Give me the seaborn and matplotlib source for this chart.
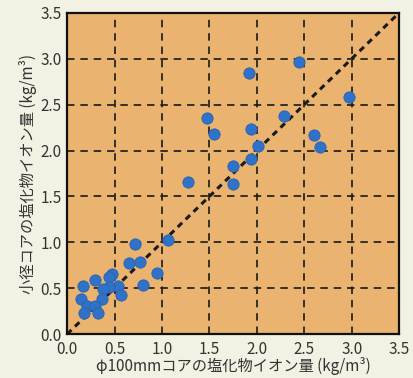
import matplotlib
matplotlib.use("Agg")
import matplotlib.pyplot as plt
import seaborn as sns
import pandas as pd

x_phi100 = [2.45, 1.92, 2.97, 1.47, 2.29, 1.55, 1.94, 2.60, 2.67, 2.01, 1.94, 1.75,
            1.28, 1.75, 1.06, 0.72, 0.65, 0.77, 0.95, 0.47, 0.44, 0.29, 0.17, 0.80,
            0.54, 0.44, 0.38, 0.57, 0.37, 0.15, 0.21, 0.29, 0.18, 0.33]
y_small = [2.96, 2.84, 2.58, 2.35, 2.38, 2.18, 2.24, 2.17, 2.04, 2.05, 1.91, 1.83,
           1.66, 1.64, 1.03, 0.98, 0.78, 0.79, 0.67, 0.66, 0.62, 0.59, 0.52, 0.53,
           0.52, 0.51, 0.49, 0.43, 0.38, 0.38, 0.31, 0.31, 0.23, 0.23]
ticks = [0.0, 0.5, 1.0, 1.5, 2.0, 2.5, 3.0, 3.5]
tick_labels = ["0.0", "0.5", "1.0", "1.5", "2.0", "2.5", "3.0", "3.5"]
xlabel = "φ100mmコアの塩化物イオン量 (kg/m³)"
ylabel = "小径コアの塩化物イオン量 (kg/m³)"

df = pd.DataFrame({"x": x_phi100, "y": y_small})

sns.set_style("white")
plt.rcParams["font.family"] = ["Noto Sans CJK JP", "DejaVu Sans"]

fig = plt.figure(figsize=(4.14, 3.78), dpi=100, facecolor="#F3F1E3")
ax = fig.add_axes([0.162, 0.116, 0.802, 0.850])
ax.set_facecolor("#EAB470")

for t in ticks[1:-1]:
    ax.axvline(t, color="#1a1a1a", lw=1.2, ls=(0, (4.5, 3.5)), zorder=1)
    ax.axhline(t, color="#1a1a1a", lw=1.2, ls=(0, (4.5, 3.5)), zorder=1)

ax.plot([0, 3.5], [0, 3.5], color="#1a1a1a", lw=2.2, ls=(0, (2, 1.6)), zorder=2)

sns.scatterplot(data=df, x="x", y="y", ax=ax, s=66, color="#2F72C8",
                edgecolor="#2A62B0", linewidth=0.6, zorder=3)

ax.set_xlim(0, 3.5)
ax.set_ylim(0, 3.5)
ax.set_xticks(ticks)
ax.set_xticklabels(tick_labels)
ax.set_yticks(ticks)
ax.set_yticklabels(tick_labels)
ax.tick_params(axis="x", length=0, labelsize=11, colors="#333333", pad=5)
ax.tick_params(axis="y", length=0, labelsize=11, colors="#333333", pad=4)
ax.set_xlabel(xlabel, fontsize=11, color="#333333", labelpad=-1)
ax.set_ylabel(ylabel, fontsize=11, color="#333333", labelpad=2)
for sp in ax.spines.values():
    sp.set_visible(True)
    sp.set_color("#111111")
    sp.set_linewidth(1.6)

fig.savefig("out.png", dpi=100, facecolor=fig.get_facecolor())
